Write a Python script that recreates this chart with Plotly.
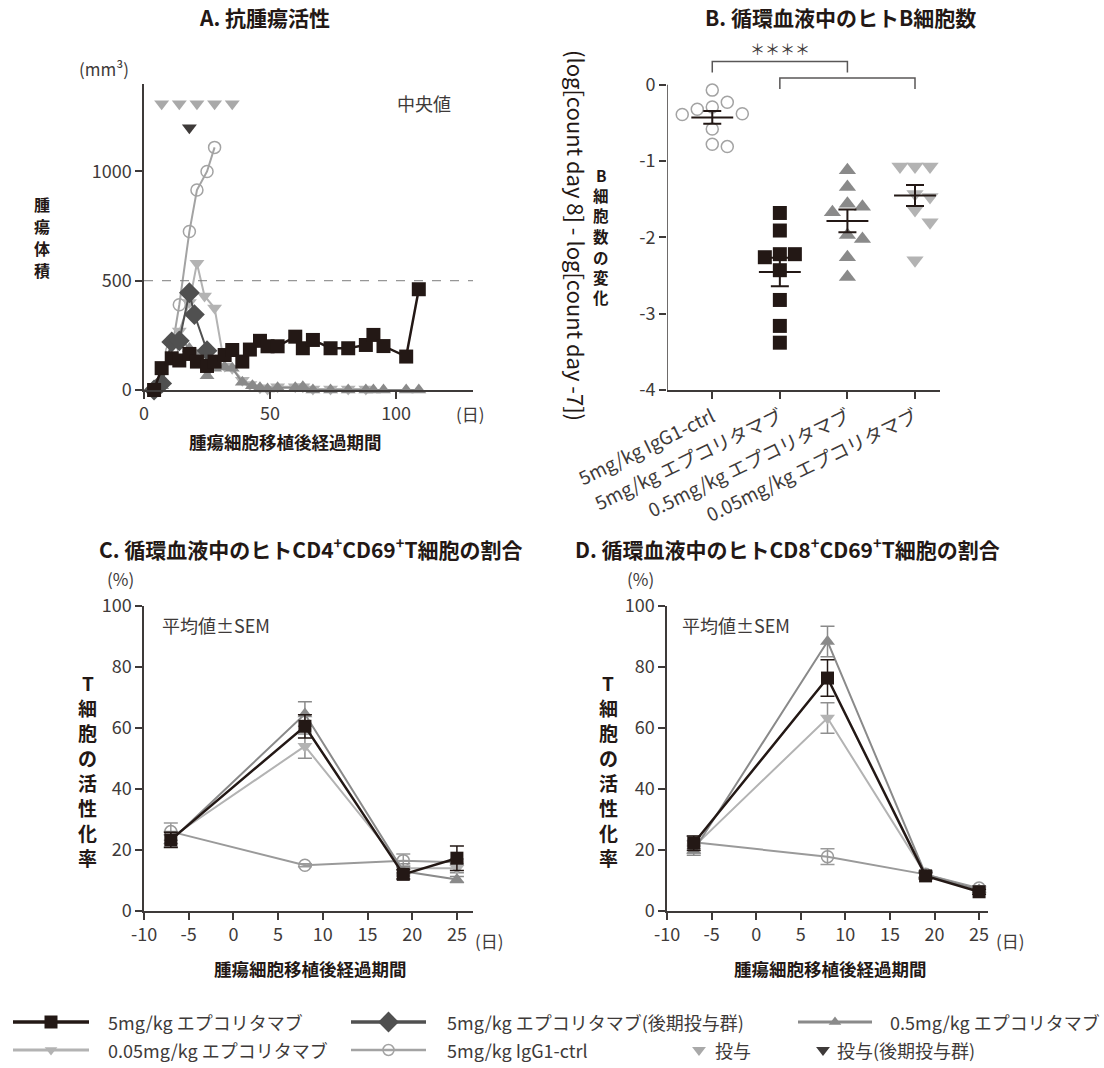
import numpy as np
import plotly.graph_objects as go

FONT = "Noto Sans CJK JP"
INK = "#3e3a39"
BLACK = "#231815"
W, H = 1104, 1068

# series colours
C_5MG = "#231815"
C_LATE = "#505050"
C_05MG = "#8a8a8a"
C_005MG = "#b3b3b3"
C_IGG = "#a3a3a3"
C_DOSE = "#a9a9a9"
C_DOSE_LATE = "#3e3a39"

# ---------------- A: median tumour volume (mm3) ----------------
A_DAYS_5MG = [4, 7, 11, 14, 18, 21, 25, 28, 32, 35, 39, 42, 46, 49, 53, 60, 63, 67, 74, 81, 88, 91, 95, 104, 109]
A_VOL_5MG = [0, 100, 145, 135, 165, 130, 110, 130, 160, 183, 130, 185, 225, 200, 200, 244, 191, 229, 191, 191, 206, 252, 201, 153, 461]

A_DAYS_LATE = [4, 7, 11, 14, 18, 20, 25]
A_VOL_LATE = [0, 30, 220, 225, 445, 345, 180]

A_DAYS_05MG = [4, 7, 11, 14, 18, 21, 25, 28, 32, 35, 39, 43, 46, 49, 53, 60, 63, 67, 74, 81, 88, 91, 95, 104, 109]
A_VOL_05MG = [0, 20, 230, 240, 190, 160, 65, 100, 105, 100, 35, 20, 10, 5, 10, 10, 15, 0, 0, 0, 0, 0, 0, 0, 0]

A_DAYS_005MG = [4, 7, 11, 14, 18, 21, 24, 28, 32, 35, 39, 42, 46, 49, 53, 60, 63, 67, 74, 81, 88]
A_VOL_005MG = [0, 30, 200, 270, 400, 580, 430, 375, 110, 100, 45, 25, 10, 5, 15, 15, 15, 5, 5, 5, 5]

A_DAYS_IGG = [4, 7, 11, 14, 18, 21, 25, 28]
A_VOL_IGG = [0, 30, 180, 390, 725, 915, 1000, 1110]

A_DOSE_DAYS = [7, 14, 21, 28, 35]
A_LATE_DOSE_DAYS = [18]
A_THRESHOLD = 500

# ---------------- B: change in circulating B cells ----------------
B_GROUPS = ["5mg/kg IgG1-ctrl", "5mg/kg エプコリタマブ", "0.5mg/kg エプコリタマブ", "0.05mg/kg エプコリタマブ"]
B_IGG = [-0.07, -0.23, -0.29, -0.32, -0.38, -0.39, -0.58, -0.78, -0.81]
B_5MG = [-1.68, -1.91, -2.22, -2.26, -2.22, -2.43, -2.82, -3.16, -3.38]
B_05MG = [-1.12, -1.34, -1.56, -1.67, -1.60, -1.97, -2.02, -2.26, -2.52]
B_005MG = [-1.07, -1.07, -1.07, -1.21, -1.43, -1.47, -1.64, -1.80, -2.30]

# ---------------- C / D: activated T cells (%) ----------------
T_DAYS = [-7, 8, 19, 25]

C_5MG_MEAN = [23.3, 60.5, 12.0, 17.3]
C_5MG_SEM = [2.5, 3.8, 1.5, 4.0]
C_05MG_MEAN = [23.0, 64.5, 13.0, 10.3]
C_05MG_SEM = [2.0, 4.0, 1.5, 1.0]
C_005MG_MEAN = [24.0, 54.0, 14.0, 14.0]
C_005MG_SEM = [2.0, 4.0, 1.5, 1.5]
C_IGG_MEAN = [26.0, 15.0, 16.5, 16.0]
C_IGG_SEM = [2.8, 0.5, 2.2, 1.0]

D_5MG_MEAN = [22.2, 76.3, 11.5, 6.3]
D_5MG_SEM = [2.4, 6.0, 1.0, 0.8]
D_05MG_MEAN = [19.8, 88.3, 12.0, 7.0]
D_05MG_SEM = [1.5, 5.0, 1.0, 0.8]
D_005MG_MEAN = [21.0, 63.2, 12.0, 7.0]
D_005MG_SEM = [2.0, 5.0, 1.0, 0.8]
D_IGG_MEAN = [22.5, 17.8, 12.0, 7.5]
D_IGG_SEM = [2.0, 2.6, 1.0, 0.8]


def fx(px):
    return px / W


def fy(py):
    return 1 - py / H


fig = go.Figure()

# ---------- panel A ----------
def a_series(days, vals, color, symbol, size, width, open_marker=False):
    marker = dict(symbol=symbol, size=size, color=color)
    if open_marker:
        marker = dict(symbol=symbol, size=size, color=color, line=dict(color=color, width=1.5))
    fig.add_trace(go.Scatter(x=days, y=vals, mode="lines+markers", xaxis="x", yaxis="y",
                             line=dict(color=color, width=width), marker=marker,
                             cliponaxis=False, hoverinfo="skip"))


a_series(A_DAYS_IGG, A_VOL_IGG, C_IGG, "circle-open", 12, 2, open_marker=True)
a_series(A_DAYS_005MG, A_VOL_005MG, C_005MG, "triangle-down", 13, 2)
a_series(A_DAYS_05MG, A_VOL_05MG, C_05MG, "triangle-up", 13, 2)
a_series(A_DAYS_LATE, A_VOL_LATE, C_LATE, "diamond", 16, 2)
a_series(A_DAYS_5MG, A_VOL_5MG, C_5MG, "square", 14, 2.5)

# dosing days
fig.add_trace(go.Scatter(x=A_DOSE_DAYS, y=[1310] * len(A_DOSE_DAYS), mode="markers", xaxis="x", yaxis="y",
                         marker=dict(symbol="triangle-down", size=13, color=C_DOSE), hoverinfo="skip"))
fig.add_trace(go.Scatter(x=A_LATE_DOSE_DAYS, y=[1200] * len(A_LATE_DOSE_DAYS), mode="markers", xaxis="x", yaxis="y",
                         marker=dict(symbol="triangle-down", size=13, color=C_DOSE_LATE), hoverinfo="skip"))

# ---------- panel B ----------
PPU_X_B = 67.5   # px per category
PPU_Y_B = 76.25  # px per log unit


def swarm(values, diam):
    placed = []
    order = np.argsort(-np.asarray(values), kind="stable")
    res = [0.0] * len(values)
    for i in order:
        v = values[i]
        cands = [0.0]
        for j in range(1, 12):
            cands += [j * diam * 0.5, -j * diam * 0.5]
        chosen = 0.0
        for c in cands:
            if all((c - px) ** 2 + ((v - pv) * PPU_Y_B) ** 2 >= (diam * 0.98) ** 2 for px, pv in placed):
                chosen = c
                break
        placed.append((chosen, v))
        res[i] = chosen / PPU_X_B
    return res


B_DATA = [B_IGG, B_5MG, B_05MG, B_005MG]
B_STYLE = [
    dict(symbol="circle-open", size=12, color=C_IGG, line=dict(color=C_IGG, width=1.5)),
    dict(symbol="square", size=14, color=C_5MG),
    dict(symbol="triangle-up", size=15, color=C_05MG),
    dict(symbol="triangle-down", size=15, color=C_005MG),
]
for gi, (vals, sty) in enumerate(zip(B_DATA, B_STYLE)):
    offs = swarm(vals, 15)
    fig.add_trace(go.Scatter(x=[gi + o for o in offs], y=vals, mode="markers", xaxis="x2", yaxis="y2",
                             marker=sty, cliponaxis=False, hoverinfo="skip"))
for gi, vals in enumerate(B_DATA):
    arr = np.asarray(vals)
    m = arr.mean()
    sem = arr.std(ddof=1) / np.sqrt(len(arr))
    fig.add_trace(go.Scatter(x=[gi - 0.31, gi + 0.31], y=[m, m], mode="lines", xaxis="x2", yaxis="y2",
                             line=dict(color=BLACK, width=2), hoverinfo="skip"))
    fig.add_trace(go.Scatter(x=[gi], y=[m], mode="markers", xaxis="x2", yaxis="y2",
                             marker=dict(size=1, color="rgba(0,0,0,0)"),
                             error_y=dict(type="data", array=[sem], color=BLACK, thickness=2, width=9),
                             hoverinfo="skip"))

# ---------- panels C and D ----------
def t_series(xa, ya, mean, sem, color, symbol, size, width, open_marker=False):
    marker = dict(symbol=symbol, size=size, color=color)
    if open_marker:
        marker = dict(symbol=symbol, size=size, color=color, line=dict(color=color, width=1.5))
    fig.add_trace(go.Scatter(x=T_DAYS, y=mean, mode="lines+markers", xaxis=xa, yaxis=ya,
                             line=dict(color=color, width=width), marker=marker,
                             error_y=dict(type="data", array=sem, color=color if color != C_005MG else "#8f8f8f",
                                          thickness=1.5, width=7),
                             cliponaxis=False, hoverinfo="skip"))


for xa, ya, igg, igg_s, s005, s005_s, s05, s05_s, s5, s5_s in [
    ("x3", "y3", C_IGG_MEAN, C_IGG_SEM, C_005MG_MEAN, C_005MG_SEM, C_05MG_MEAN, C_05MG_SEM, C_5MG_MEAN, C_5MG_SEM),
    ("x4", "y4", D_IGG_MEAN, D_IGG_SEM, D_005MG_MEAN, D_005MG_SEM, D_05MG_MEAN, D_05MG_SEM, D_5MG_MEAN, D_5MG_SEM),
]:
    t_series(xa, ya, igg, igg_s, "#9a9a9a", "circle-open", 12, 2, open_marker=True)
    t_series(xa, ya, s005, s005_s, C_005MG, "triangle-down", 13, 2)
    t_series(xa, ya, s05, s05_s, C_05MG, "triangle-up", 13, 2)
    t_series(xa, ya, s5, s5_s, C_5MG, "square", 13, 2.5)

# ---------- legend (drawn on a pixel-scaled helper axis) ----------
LEG_ROW1, LEG_ROW2 = 1022, 1050
LEG_SIZE = 18
legend_lines = [
    (13, 89, LEG_ROW1, C_5MG, "square", 13, 3.5, "5mg/kg エプコリタマブ", 106),
    (351, 426, LEG_ROW1, C_LATE, "diamond", 16, 3.5, "5mg/kg エプコリタマブ(後期投与群)", 445),
    (798, 872, LEG_ROW1, C_05MG, "triangle-up", 11, 3, "0.5mg/kg エプコリタマブ", 888),
    (13, 89, LEG_ROW2, C_005MG, "triangle-down", 11, 3, "0.05mg/kg エプコリタマブ", 106),
    (351, 426, LEG_ROW2, C_IGG, "circle-open", 11, 2.5, "5mg/kg IgG1-ctrl", 445),
]
annotations = []
for x0, x1, yy, col, sym, sz, lw, label, tx in legend_lines:
    fig.add_trace(go.Scatter(x=[x0, x1], y=[yy, yy], mode="lines", xaxis="x5", yaxis="y5",
                             line=dict(color=col, width=lw), hoverinfo="skip"))
    mk = dict(symbol=sym, size=sz, color=col)
    if sym == "circle-open":
        mk = dict(symbol=sym, size=sz, color=col, line=dict(color=col, width=1.5))
    fig.add_trace(go.Scatter(x=[(x0 + x1) / 2], y=[yy], mode="markers", xaxis="x5", yaxis="y5",
                             marker=mk, hoverinfo="skip"))
    annotations.append(dict(text=label, x=tx, y=yy, xref="x5", yref="y5", xanchor="left", yanchor="middle",
                            showarrow=False, font=dict(family=FONT, size=LEG_SIZE, color=INK)))
for mx, col, label, tx in [(699, C_DOSE, "投与", 713), (823, C_DOSE_LATE, "投与(後期投与群)", 835)]:
    fig.add_trace(go.Scatter(x=[mx], y=[LEG_ROW2], mode="markers", xaxis="x5", yaxis="y5",
                             marker=dict(symbol="triangle-down", size=12, color=col), hoverinfo="skip"))
    annotations.append(dict(text=label, x=tx, y=LEG_ROW2, xref="x5", yref="y5", xanchor="left",
                            yanchor="middle", showarrow=False, font=dict(family=FONT, size=LEG_SIZE, color=INK)))


# ---------- text ----------
def ann(text, px, py, size=17, color=INK, bold=False, xanchor="center", angle=0):
    if bold:
        text = "<b>" + text + "</b>"
    annotations.append(dict(text=text, x=fx(px), y=fy(py), xref="paper", yref="paper",
                            xanchor=xanchor, yanchor="middle", showarrow=False, textangle=angle,
                            font=dict(family=FONT, size=size, color=color)))


def stacked(text, px, py_center, spacing, size, bold=True, color=BLACK):
    """Vertical (top-to-bottom) label with upright characters."""
    n = len(text)
    top = py_center - spacing * (n - 1) / 2
    for k, ch in enumerate(text):
        ann(ch, px, top + k * spacing, size=size, color=color, bold=bold)


ann("A. 抗腫瘍活性", 264, 17, size=21, color=BLACK, bold=True)
ann("B. 循環血液中のヒトB細胞数", 840, 17, size=21, color=BLACK, bold=True)
ann("C. 循環血液中のヒトCD4<sup>+</sup>CD69<sup>+</sup>T細胞の割合", 311, 548, size=21, color=BLACK, bold=True)
ann("D. 循環血液中のヒトCD8<sup>+</sup>CD69<sup>+</sup>T細胞の割合", 787, 548, size=21, color=BLACK, bold=True)

ann("(mm³)", 104, 68, size=17)
ann("中央値", 424, 103, size=18)
stacked("腫瘍体積", 42, 237, 22, 16)
ann("腫瘍細胞移植後経過期間", 285, 441, size=17.5, color=BLACK, bold=True)
ann("(日)", 470, 413, size=17)

ann("(log[count day 8] - log[count day -7])", 577, 235, size=22, color=BLACK, angle=90)
stacked("B細胞数の変化", 601, 236, 20.5, 15.5)
annotations.append(dict(text="＊＊＊＊", x=1, y=0.48, xref="x2", yref="y2", showarrow=False,
                        xanchor="center", yanchor="middle", font=dict(family=FONT, size=15, color=INK)))

for off in (0, 520):
    ann("(%)", 120 + off, 578, size=17)
    ann("平均値±SEM", 216 + off, 625, size=18)
    stacked("T細胞の活性化率", 88 + off, 770, 25, 19)
    ann("腫瘍細胞移植後経過期間", 310 + off, 968, size=17.5, color=BLACK, bold=True)
    ann("(日)", 490 + off, 940, size=17)

shapes = [
    # threshold line
    dict(type="line", xref="x", yref="y", x0=0, x1=130.5, y0=A_THRESHOLD, y1=A_THRESHOLD,
         line=dict(color="#7d7d7d", width=1, dash="dash")),
    # y axis line of B (stops at 0)
    dict(type="line", xref="x2", yref="y2", x0=-0.67, x1=-0.67, y0=-4, y1=0,
         line=dict(color=INK, width=1.5)),
    # significance brackets
    dict(type="path", xref="x2", yref="y2", path="M 0,0.16 L 0,0.305 L 2,0.305 L 2,0.16",
         line=dict(color="#595757", width=1.5)),
    dict(type="path", xref="x2", yref="y2", path="M 1,-0.056 L 1,0.088 L 3,0.088 L 3,-0.056",
         line=dict(color="#595757", width=1.5)),
]

axis_common = dict(showline=True, linecolor=INK, linewidth=1.5, ticks="outside", ticklen=7, tickwidth=1.5,
                   tickcolor=INK, showgrid=False, zeroline=False, automargin=False,
                   tickfont=dict(family=FONT, size=18, color=INK), fixedrange=True)

t_ticks = [-10, -5, 0, 5, 10, 15, 20, 25]
t_ticktext = [str(v) for v in t_ticks]

fig.update_layout(
    template="none",
    width=W, height=H, margin=dict(l=0, r=0, t=0, b=0, pad=0), autosize=False,
    paper_bgcolor="white", plot_bgcolor="white", showlegend=False,
    xaxis=dict(axis_common, domain=[fx(144), fx(473)], range=[0, 130.5], tickvals=[0, 50, 100], anchor="y"),
    yaxis=dict(axis_common, domain=[fy(390), fy(84)], range=[0, 1400], tickvals=[0, 500, 1000], anchor="x"),
    xaxis2=dict(axis_common, domain=[fx(667), fx(940)], range=[-0.67, 3.37], tickvals=[0, 1, 2, 3],
                ticktext=B_GROUPS, tickangle=-26, tickfont=dict(family=FONT, size=19, color=INK), anchor="y2"),
    yaxis2=dict(axis_common, domain=[fy(390), fy(39)], range=[-4, 0.6], tickvals=[0, -1, -2, -3, -4],
                ticktext=["0", "-1", "-2", "-3", "-4"], showline=False, anchor="x2"),
    xaxis3=dict(axis_common, domain=[fx(144), fx(473)], range=[-10, 26.8], tickvals=t_ticks,
                ticktext=t_ticktext, anchor="y3"),
    yaxis3=dict(axis_common, domain=[fy(911), fy(605.7)], range=[0, 100], tickvals=[0, 20, 40, 60, 80, 100],
                anchor="x3"),
    xaxis4=dict(axis_common, domain=[fx(667), fx(988)], range=[-10, 26], tickvals=t_ticks,
                ticktext=t_ticktext, anchor="y4"),
    yaxis4=dict(axis_common, domain=[fy(911), fy(605.7)], range=[0, 100], tickvals=[0, 20, 40, 60, 80, 100],
                anchor="x4"),
    xaxis5=dict(domain=[0, 1], range=[0, W], visible=False, anchor="y5", fixedrange=True, automargin=False),
    yaxis5=dict(domain=[0, fy(985)], range=[H, 985], visible=False, anchor="x5", fixedrange=True,
                automargin=False),
    annotations=annotations,
    shapes=shapes,
)

fig.write_html("out.html")
